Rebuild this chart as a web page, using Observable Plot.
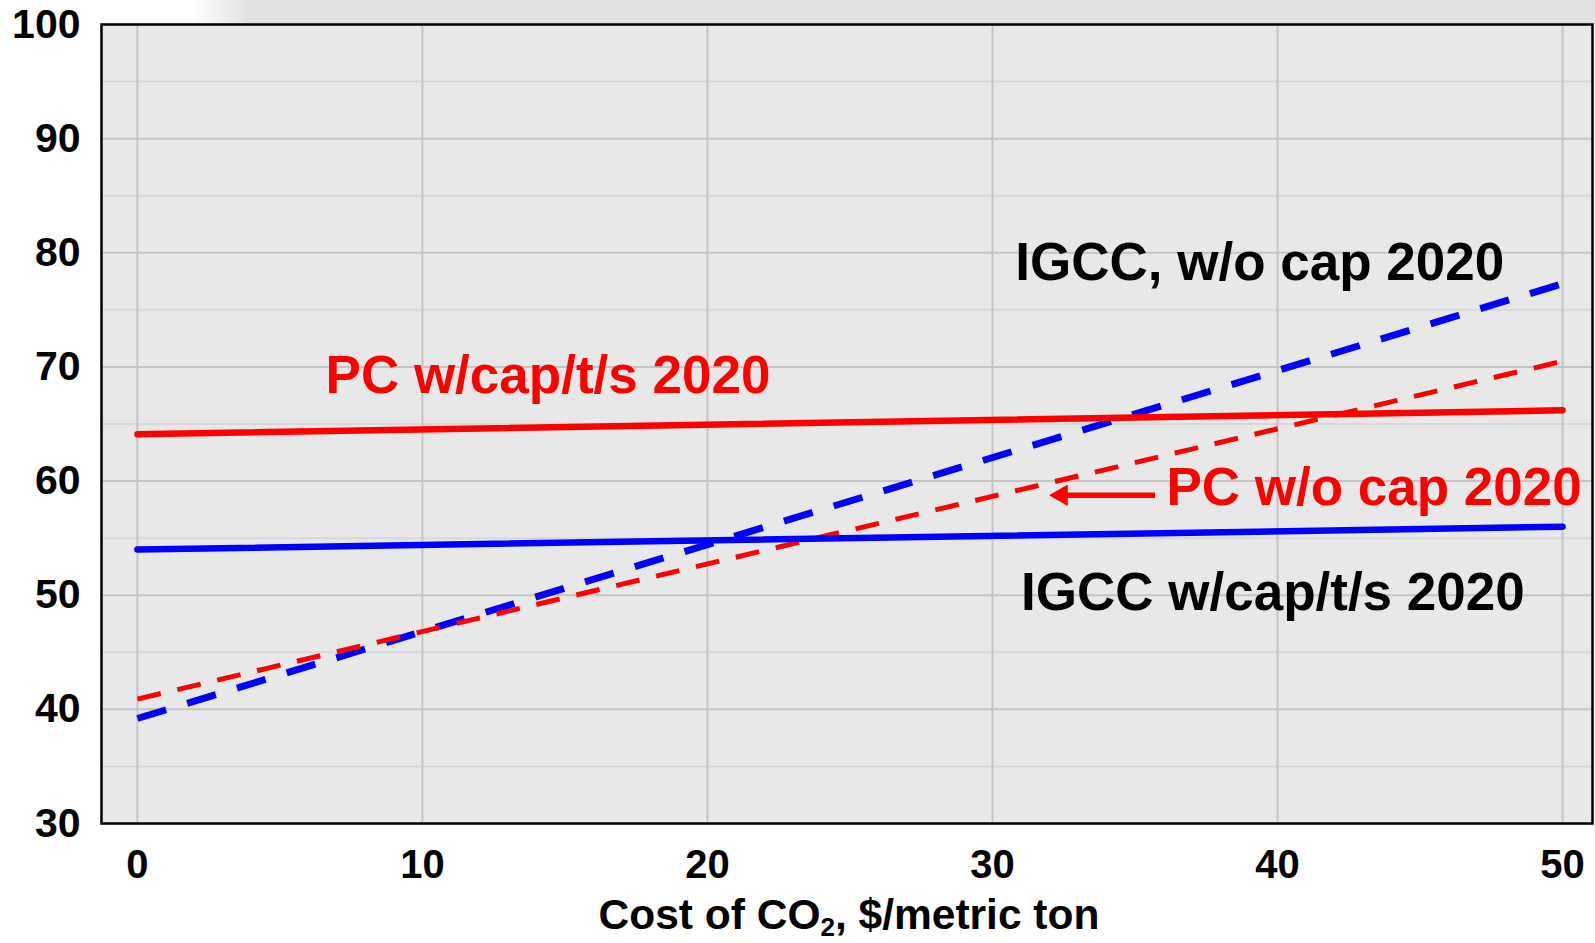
<!DOCTYPE html>
<html>
<head>
<meta charset="utf-8">
<script src="https://cdn.jsdelivr.net/npm/d3@7"></script>
<script src="https://cdn.jsdelivr.net/npm/@observablehq/plot@0.6"></script>
<style>
  html, body { margin: 0; padding: 0; background: #fff; overflow: hidden; }
  #chart { position: relative; width: 1595px; height: 943px; }
  #band { position: absolute; left: 0; top: 0; width: 1595px; height: 24px;
    background: linear-gradient(90deg, #ffffff 0px, #ffffff 190px, #e2e2e4 250px, #e2e2e4 100%); }
  #chart svg { position: absolute; left: 0; top: 0; }
</style>
</head>
<body>
<div id="chart"><div id="band"></div></div>
<script>
// ---- data ----
const costs = [0, 50];                 // Cost of CO2, $/metric ton
const pcCap = [64.1, 66.2];            // PC w/cap/t/s 2020
const igccCap = [54.0, 56.0];          // IGCC w/cap/t/s 2020
const igccNoCap = [39.2, 77.3];        // IGCC, w/o cap 2020
const pcNoCap = [40.9, 70.5];          // PC w/o cap 2020
const xTicks = [0, 10, 20, 30, 40, 50];
const yTicks = [30, 40, 50, 60, 70, 80, 90, 100];
const yMinor = [35, 45, 55, 65, 75, 85, 95];
const labels = ["IGCC, w/o cap 2020", "PC w/cap/t/s 2020", "PC w/o cap 2020", "IGCC w/cap/t/s 2020"];
const labelX = [30.8, 6.6, 36.1, 31.0];
const labelY = [79.1, 69.2, 59.4, 50.2];
const arrowFrom = [35.7, 58.75];
const arrowShaftEnd = [32.6, 58.75];
const arrowTo = [32.0, 58.75];

const table = ys => costs.map((c, i) => ({x: c, y: ys[i]}));
const annos = labels.map((t, i) => ({text: t, x: labelX[i], y: labelY[i], red: t.startsWith("PC")}));

const font = "'Liberation Sans', Arial, sans-serif";

const plot = Plot.plot({
  width: 1595,
  height: 943,
  marginLeft: 101,
  marginTop: 24,
  marginRight: 3,
  marginBottom: 120,
  style: {fontFamily: font, fontWeight: "bold", color: "#000", background: "transparent"},
  x: {domain: [-1.26, 51.05]},
  y: {domain: [30, 100]},
  marks: [
    Plot.frame({fill: "#e8e8e8", stroke: null}),
    Plot.gridY(yMinor, {stroke: "#d8d8d8", strokeOpacity: 1, strokeWidth: 2}),
    Plot.gridY(yTicks, {stroke: "#c4c4c4", strokeOpacity: 1, strokeWidth: 2}),
    Plot.gridX(xTicks, {stroke: "#c4c4c4", strokeOpacity: 1, strokeWidth: 2}),
    Plot.axisY(yTicks, {tickSize: 0, tickPadding: 21, fontSize: 41, fontWeight: "bold", label: null}),
    Plot.axisX(xTicks, {tickSize: 0, tickPadding: 26, fontSize: 40, fontWeight: "bold", label: null}),
    Plot.line(table(igccNoCap), {x: "x", y: "y", stroke: "#0000ff", strokeWidth: 7, strokeDasharray: "30,22", strokeLinecap: "butt"}),
    Plot.line(table(pcNoCap), {x: "x", y: "y", stroke: "#ff0000", strokeWidth: 5, strokeDasharray: "24,17", strokeLinecap: "butt"}),
    Plot.line(table(igccCap), {x: "x", y: "y", stroke: "#0000ff", strokeWidth: 6.5}),
    Plot.line(table(pcCap), {x: "x", y: "y", stroke: "#ff0000", strokeWidth: 6.5}),
    Plot.link([{x1: arrowFrom[0], y1: arrowFrom[1], x2: arrowShaftEnd[0], y2: arrowShaftEnd[1]}],
      {x1: "x1", y1: "y1", x2: "x2", y2: "y2", stroke: "#ff0000", strokeWidth: 5.5}),
    Plot.dot([{x: arrowTo[0], y: arrowTo[1]}],
      {x: "x", y: "y", symbol: "triangle", rotate: -90, r: 8, fill: "#ff0000", stroke: null, dx: 12}),
    Plot.text(annos, {x: "x", y: "y", text: "text", textAnchor: "start", fontSize: 53, fontWeight: "bold",
      fill: d => d.red ? "#ff0000" : "#000000"}),
    Plot.frame({stroke: "#000", strokeWidth: 2.5})
  ]
});

document.getElementById("chart").appendChild(plot);

// x axis title with subscript
const svg = d3.select(plot);
const t = svg.append("text")
  .attr("x", 849)
  .attr("y", 929)
  .attr("text-anchor", "middle")
  .attr("font-family", font)
  .attr("font-weight", "bold")
  .attr("font-size", 42.5)
  .attr("fill", "#000");
t.append("tspan").text("Cost of CO");
t.append("tspan").attr("font-size", 26).attr("dy", 7).text("2");
t.append("tspan").attr("dy", -7).text(", $/metric ton");
</script>
</body>
</html>
